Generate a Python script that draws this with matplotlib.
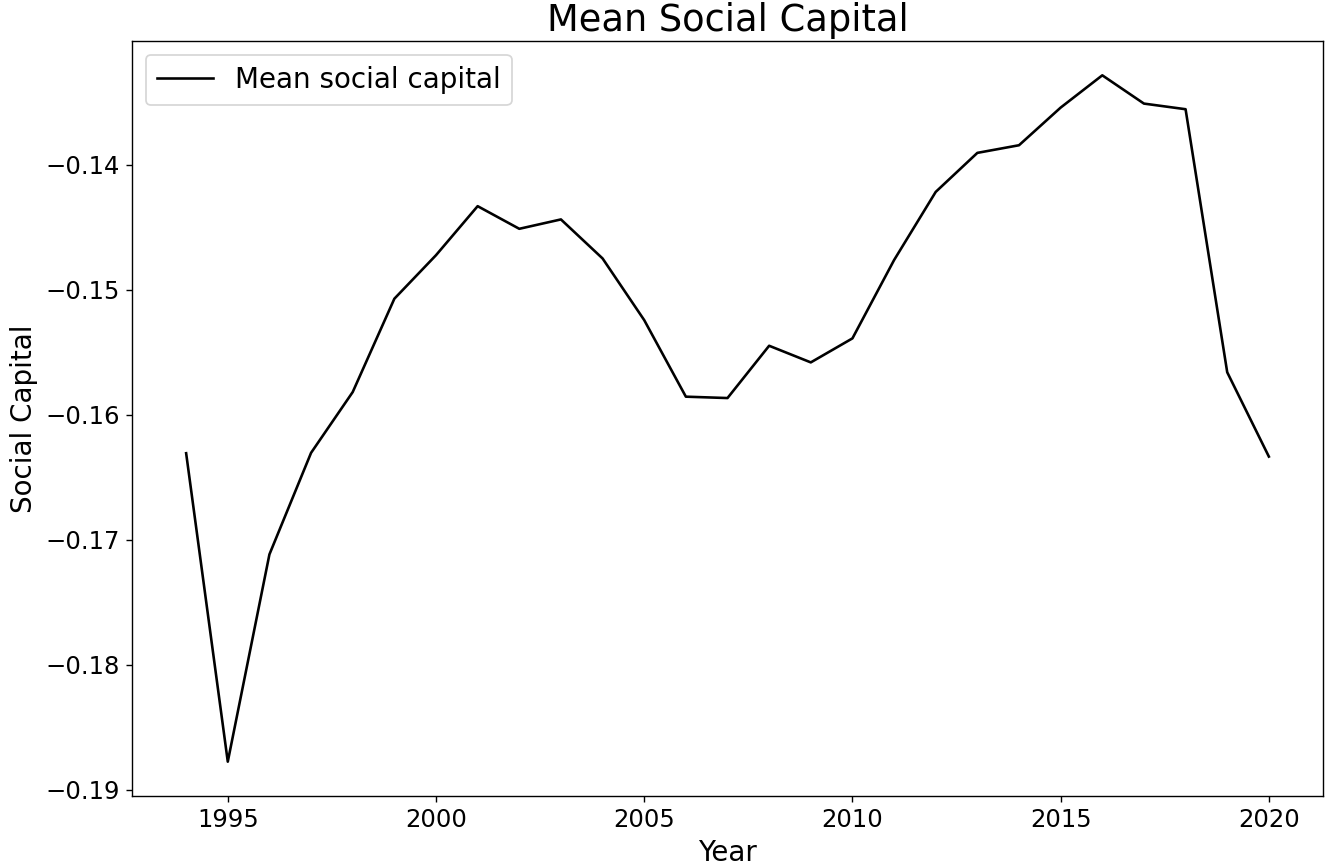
import matplotlib
matplotlib.use("Agg")
import matplotlib.pyplot as plt

years = list(range(1994, 2021))
mean_social_capital = [
    -0.16308, -0.18774, -0.17117, -0.16305, -0.15819, -0.15073, -0.14725,
    -0.14333, -0.14514, -0.14439, -0.14751, -0.15244, -0.15856, -0.15867,
    -0.15449, -0.15582, -0.15390, -0.14764, -0.14219, -0.13907, -0.13846,
    -0.13545, -0.13287, -0.13513, -0.13558, -0.15661, -0.16335,
]

W, H, DPI = 1333, 865, 125
fig = plt.figure(figsize=(W / DPI, H / DPI), dpi=DPI)
left, right, top, bottom = 132, 1323, 41, 796
ax = fig.add_axes([left / W, 1 - bottom / H, (right - left) / W, (bottom - top) / H])
ax.plot(years, mean_social_capital, color="black", linewidth=1.5, label="Mean social capital")
ax.set_title("Mean Social Capital", fontsize=21.2)
ax.set_xlabel("Year", fontsize=16)
ax.set_ylabel("Social Capital", fontsize=16)
ax.tick_params(labelsize=14)
ax.legend(fontsize=16, loc="upper left")
fig.savefig("out.png", dpi=DPI)
